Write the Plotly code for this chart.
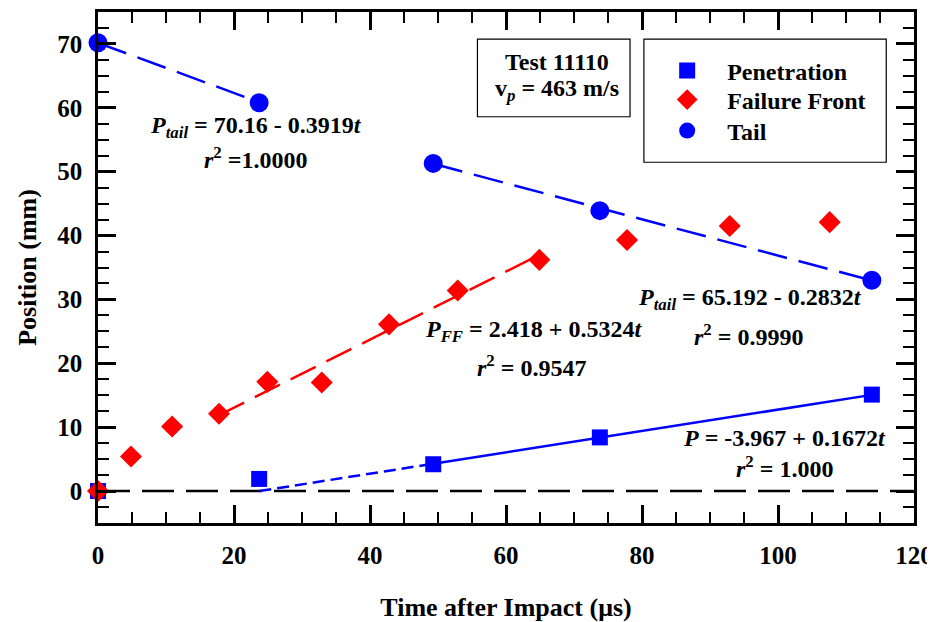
import plotly.graph_objects as go

# ---------------- data ----------------
pen_t = [0.0, 23.7, 49.3, 73.8, 113.8]
pen_p = [0.0, 1.9, 4.2, 8.4, 15.1]

ff_t = [0.0, 4.85, 10.9, 17.8, 24.9, 32.9, 42.8, 52.9, 64.9, 77.8, 92.9, 107.6]
ff_p = [0.0, 5.4, 10.1, 12.1, 17.1, 17.0, 26.1, 31.4, 36.2, 39.3, 41.5, 42.1]

tail_t = [0.0, 23.7, 49.3, 73.8, 113.8]
tail_p = [70.2, 60.8, 51.3, 43.9, 33.0]

# linear fits shown on the chart: intercept, slope, t-range
fit_names = ["tail1", "tail2", "ff", "pen_extrap", "pen"]
fit_intercept = [70.16, 65.192, 2.418, -3.967, -3.967]
fit_slope = [-0.3919, -0.2832, 0.5324, 0.1672, 0.1672]
fit_t0 = [0.0, 49.3, 17.8, 23.73, 49.3]
fit_t1 = [23.7, 113.8, 64.9, 49.3, 113.8]
fit_color = ["#0000ff", "#0000ff", "#ff0000", "#0000ff", "#0000ff"]
fit_dash = ["30px,12px", "30px,12px", "28px,12px", "12px,6px", "solid"]

x_ticks = [0, 20, 40, 60, 80, 100, 120]
y_ticks = [0, 10, 20, 30, 40, 50, 60, 70]

FONT = "Liberation Serif"

fig = go.Figure()

for b, m, t0, t1, c, d in zip(fit_intercept, fit_slope, fit_t0, fit_t1, fit_color, fit_dash):
    xs = [t0, t1]
    ys = [b + m * t for t in xs]
    fig.add_trace(go.Scatter(x=xs, y=ys, mode="lines", showlegend=False,
                             line=dict(color=c, width=2.5, dash=d), hoverinfo="skip"))

fig.add_trace(go.Scatter(x=pen_t, y=pen_p, mode="markers", name="Penetration", legend="legend",
                         marker=dict(symbol="square", size=16, color="#0000ff"),
                         cliponaxis=False))
fig.add_trace(go.Scatter(x=ff_t, y=ff_p, mode="markers", name="Failure Front", legend="legend2",
                         marker=dict(symbol="diamond", size=17, color="#ff0000"),
                         cliponaxis=False))
fig.add_trace(go.Scatter(x=tail_t, y=tail_p, mode="markers", name="Tail", legend="legend3",
                         marker=dict(symbol="circle", size=19, color="#0000ff"),
                         cliponaxis=False))

# zero reference line
fig.add_shape(type="line", xref="x", yref="y", x0=0, x1=120, y0=0, y1=0,
              line=dict(color="black", width=2.5, dash="32px,12px"), layer="below")

# boxes for info text and legend
fig.add_shape(type="rect", xref="paper", yref="paper", x0=0.465, x1=0.652, y0=0.795, y1=0.947,
              line=dict(color="black", width=1.2), fillcolor="white", layer="below")
fig.add_shape(type="rect", xref="paper", yref="paper", x0=0.669, x1=0.966, y0=0.706, y1=0.947,
              line=dict(color="black", width=1.2), fillcolor="white", layer="below")

tf = dict(family=FONT, size=24, color="black", weight="bold")
anns = [
    (23.2, 57.0, "<i>P</i><sub><i>tail</i></sub> = 70.16 - 0.3919<i>t</i>"),
    (23.2, 52.1, "<i>r</i><sup>2</sup> =1.0000"),
    (64.0, 25.0, "<i>P</i><sub><i>FF</i></sub> = 2.418 + 0.5324<i>t</i>"),
    (63.8, 19.6, "<i>r</i><sup>2</sup> = 0.9547"),
    (95.9, 30.1, "<i>P</i><sub><i>tail</i></sub> = 65.192 - 0.2832<i>t</i>"),
    (95.6, 24.4, "<i>r</i><sup>2</sup> = 0.9990"),
    (101.0, 8.3, "<i>P</i> = -3.967 + 0.1672<i>t</i>"),
    (101.0, 3.8, "<i>r</i><sup>2</sup> = 1.000"),
]
for x, y, t in anns:
    fig.add_annotation(x=x, y=y, xref="x", yref="y", text=t, showarrow=False,
                       font=tf, xanchor="center", yanchor="middle")

fig.add_annotation(x=0.562, y=(523 - 62) / 511, xref="paper", yref="paper", text="Test 11110",
                   showarrow=False, font=tf, xanchor="center", yanchor="middle")
fig.add_annotation(x=0.562, y=(523 - 90) / 511, xref="paper", yref="paper",
                   text="v<sub><i>p</i></sub> = 463 m/s",
                   showarrow=False, font=tf, xanchor="center", yanchor="middle")

axis_common = dict(showline=True, linecolor="black", linewidth=2.5, mirror="ticks",
                   ticks="inside", ticklen=18, tickwidth=2.5, tickcolor="black",
                   showgrid=False, zeroline=False, automargin=False,
                   tickfont=dict(family=FONT, size=25, color="black", weight="bold"))

fig.update_xaxes(range=[0, 120], tickvals=x_ticks, ticktext=[str(v) for v in x_ticks],
                 minor=dict(dtick=5, tick0=0, ticks="inside", ticklen=11, tickwidth=2, tickcolor="black", showgrid=False),
                 title=dict(text="Time after Impact (μs)", standoff=34,
                            font=dict(family=FONT, size=26, color="black", weight="bold")),
                 ticklabelstandoff=8, **axis_common)
fig.update_yaxes(range=[-5, 75], tickvals=y_ticks, ticktext=[str(v) for v in y_ticks],
                 minor=dict(dtick=2.5, tick0=0, ticks="inside", ticklen=11, tickwidth=2, tickcolor="black", showgrid=False),
                 title=dict(text="Position (mm)", standoff=14,
                            font=dict(family=FONT, size=26, color="black", weight="bold")),
                 ticklabelstandoff=8, **axis_common)

leg_common = dict(xanchor="left", yanchor="middle", bgcolor="rgba(0,0,0,0)", borderwidth=0,
                  font=dict(family=FONT, size=24, color="black", weight="bold"),
                  itemwidth=70)
LEGX = 0.673
# page body has an 8px default margin: figure shifted/sized to compensate
fig.update_layout(
    width=927, height=614,
    margin=dict(l=90, r=21, t=4, b=99, autoexpand=False),
    paper_bgcolor="white", plot_bgcolor="white",
    showlegend=True,
    legend=dict(x=LEGX, y=(523 - 71) / 511, **leg_common),
    legend2=dict(x=LEGX, y=(523 - 100) / 511, **leg_common),
    legend3=dict(x=LEGX, y=(523 - 131) / 511, **leg_common),
)

fig.write_html("out.html")
